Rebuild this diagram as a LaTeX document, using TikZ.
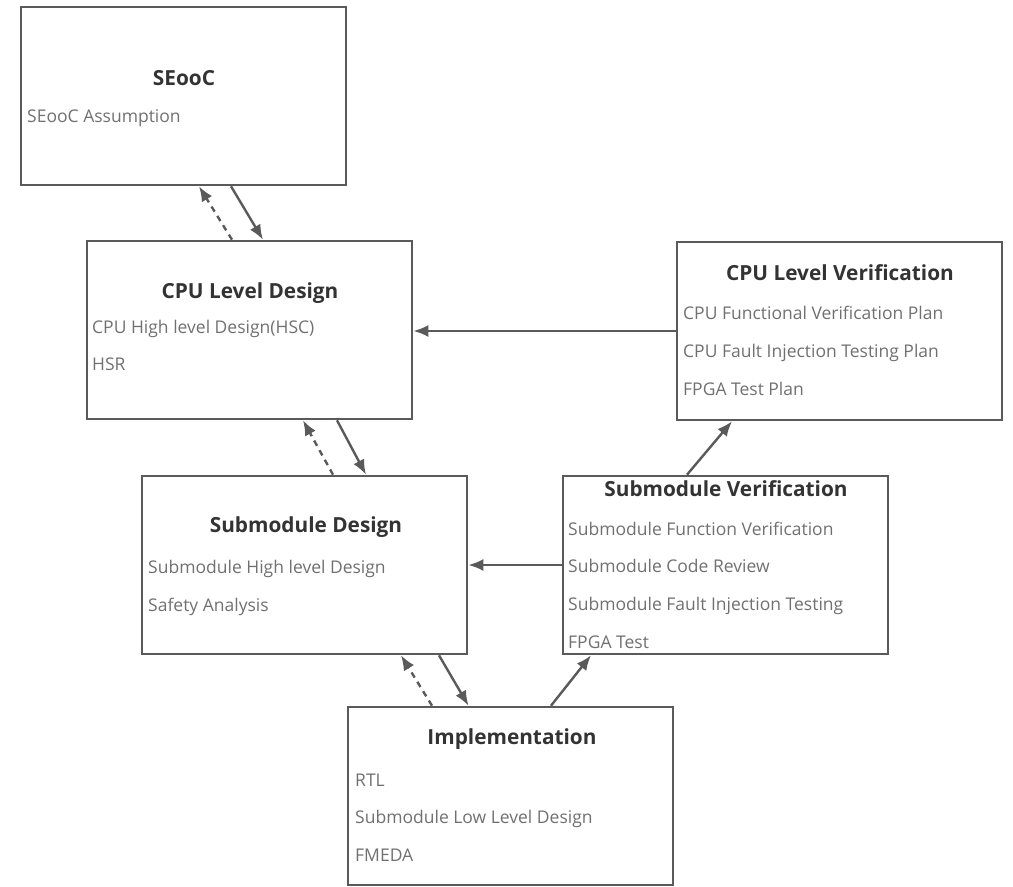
\documentclass[tikz,border=0pt]{standalone}
\usepackage{fontspec}
\setmainfont{Open Sans}
\usepackage{tikz}
\usetikzlibrary{arrows.meta, positioning}

\definecolor{linegray}{HTML}{5A5A5A}
\definecolor{titlegray}{HTML}{333333}
\definecolor{itemgray}{HTML}{707070}

\begin{document}
\begin{tikzpicture}[x=1pt, y=-1pt,
    box/.style={rectangle, draw=linegray, line width=2.6pt, minimum width=325pt, minimum height=178pt, inner sep=0pt},
    title/.style={font=\fontsize{20.8}{23}\selectfont\bfseries, text=titlegray, inner sep=0pt},
    item/.style={font=\fontsize{17.5}{20}\selectfont, text=itemgray, anchor=west, inner sep=0pt, text height=13pt, text depth=0pt},
    arr/.style={color=linegray, line width=2.4pt, -{Latex[length=15pt, width=12pt]}},
    back/.style={arr, dash pattern=on 6pt off 5pt}]
        \useasboundingbox (0,0) rectangle (1013,887);

        % boxes
        \node[box] (seooc) at (183.5,96) {};
        \node[box] (cpud) at (249.5,330) {};
        \node[box] (cpuv) at (839.5,331) {};
        \node[box] (subv) at (725.5,565) {};
        \node[box] (subd) at (304.5,565) {};
        \node[box] (impl) at (510.5,796) {};

        \node[title] (seooc_t) at (184,78) {SEooC};
        \node[item] (seooc_1) at (27,116) {SEooC Assumption};

        \node[title] (cpud_t) at (250,293) {CPU Level Design};
        \node[item] (cpud_1) at (92,327) {CPU High level Design(HSC)};
        \node[item] (cpud_2) at (92,364) {HSR};

        \node[title] (cpuv_t) at (840,273) {CPU Level Verification};
        \node[item] (cpuv_1) at (683,313) {CPU Functional Verification Plan};
        \node[item] (cpuv_2) at (683,351) {CPU Fault Injection Testing Plan};
        \node[item] (cpuv_3) at (683,389) {FPGA Test Plan};

        \node[title] (subv_t) at (726,489) {Submodule Verification};
        \node[item] (subv_1) at (568,529) {Submodule Function Verification};
        \node[item] (subv_2) at (568,566) {Submodule Code Review};
        \node[item] (subv_3) at (568,604) {Submodule Fault Injection Testing};
        \node[item] (subv_4) at (568,642) {FPGA Test};

        \node[title] (subd_t) at (306,527) {Submodule Design};
        \node[item] (subd_1) at (148,567) {Submodule High level Design};
        \node[item] (subd_2) at (148,605) {Safety Analysis};

        \node[title] (impl_t) at (512,739) {Implementation};
        \node[item] (impl_1) at (355,780) {RTL};
        \node[item] (impl_2) at (355,817) {Submodule Low Level Design};
        \node[item] (impl_3) at (355,855) {FMEDA};

        % arrows
        \path[arr] ([xshift=47.5pt]seooc.south) edge ([xshift=13.5pt]cpud.north);
        \path[back] ([xshift=-17.5pt]cpud.north) edge ([xshift=15.5pt]seooc.south);
        \path[arr] ([xshift=87.5pt]cpud.south) edge ([xshift=61.5pt]subd.north);
        \path[back] ([xshift=28.5pt]subd.north) edge ([xshift=53.5pt]cpud.south);
        \path[arr] ([xshift=134.5pt]subd.south) edge ([xshift=-42pt]impl.north);
        \path[back] ([xshift=-78.5pt]impl.north) edge ([xshift=96.5pt]subd.south);
        \path[arr] ([xshift=40.5pt]impl.north) edge ([xshift=-134.5pt]subv.south);
        \path[arr] ([xshift=-38.5pt]subv.north) edge ([xshift=-107.5pt]cpuv.south);
        \path[arr] (subv.west) edge (subd.east);
        \path[arr] (cpuv.west) edge (cpuv.west -| cpud.east);
\end{tikzpicture}
\end{document}
